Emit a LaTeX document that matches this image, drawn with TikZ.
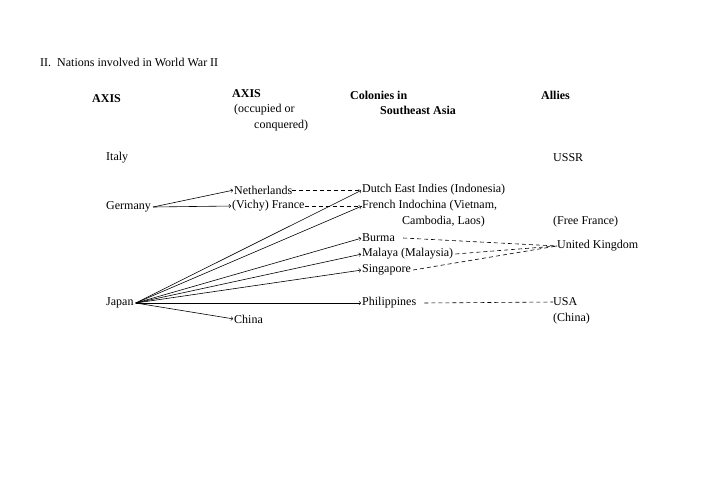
\documentclass[tikz,border=0pt]{standalone}
\usepackage{fontspec}
\setmainfont{Liberation Serif}
\begin{document}
\begin{tikzpicture}[x=1pt,y=-1pt,
  t/.style={anchor=west,inner sep=0pt,font=\fontsize{12}{14}\selectfont},
  b/.style={t,font=\fontsize{12}{14}\selectfont\bfseries},
  arr/.style={-to,line width=0.6pt,shorten >=1pt},
  dsh/.style={dashed,line width=0.6pt,dash pattern=on 4pt off 3pt}]
\useasboundingbox (0,0) rectangle (718,482);
\node[t] (title) at (40,62) {II.\ \ Nations involved in World War II};
\node[b] (h1) at (92,99) {AXIS};
\node[b] (h2) at (232,94) {AXIS};
\node[t] (h2b) at (234,110) {(occupied or};
\node[t] (h2c) at (254,126) {conquered)};
\node[b] (h3) at (350,95) {Colonies in};
\node[b] (h3b) at (380,110) {Southeast Asia};
\node[b] (h4) at (541,95) {Allies};
\node[t] (it) at (106,158) {Italy};
\node[t] (ge) at (106,207) {Germany};
\node[t] (ja) at (106,303) {Japan};
\node[t] (ne) at (234,190) {Netherlands};
\node[t] (fr) at (232,206) {(Vichy) France};
\node[t] (ch) at (234,319) {China};
\node[t] (de) at (362,190) {Dutch East Indies (Indonesia)};
\node[t] (fi) at (362,206) {French Indochina (Vietnam,};
\node[t] (fi2) at (402,222) {Cambodia, Laos)};
\node[t] (bu) at (362,238) {Burma};
\node[t] (ma) at (362,254) {Malaya (Malaysia)};
\node[t] (si) at (362,270) {Singapore};
\node[t] (ph) at (362,303) {Philippines};
\node[t] (us) at (553,158) {USSR};
\node[t] (ff) at (553,222) {(Free France)};
\node[t] (uk) at (557,246) {United Kingdom};
\node[t] (usa) at (553,302) {USA};
\node[t] (cn) at (553,319) {(China)};
\draw[arr] ([xshift=2pt]ge.east) -- (ne.west);
\draw[arr] ([xshift=2pt]ge.east) -- (fr.west);
\foreach \n in {de,fi,bu,ma,si,ph,ch}
  \draw[arr] ([xshift=2pt]ja.east) -- (\n.west);
\draw[dsh] (ne.east) -- (de.west);
\draw[dsh] (fr.east) -- (fi.west);
\draw[dsh] ([xshift=8pt]bu.east) -- (uk.west);
\draw[dsh] ([xshift=2pt]ma.east) -- (uk.west);
\draw[dsh] ([xshift=2pt]si.east) -- (uk.west);
\draw[dsh] ([xshift=8pt]ph.east) -- (usa.west);
\end{tikzpicture}
\end{document}
